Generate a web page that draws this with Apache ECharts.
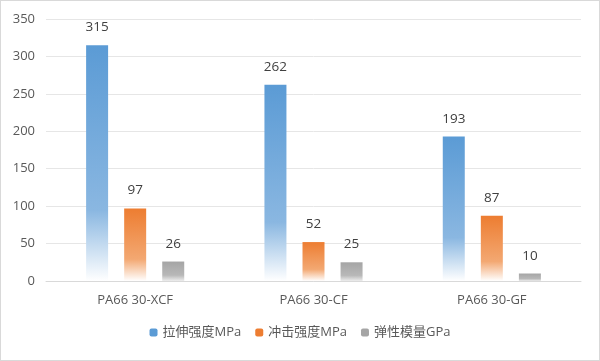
<!DOCTYPE html>
<html><head><meta charset="utf-8">
<script src="https://cdn.jsdelivr.net/npm/echarts@6/dist/echarts.min.js"></script>
<style>html,body{margin:0;padding:0;background:#fff}#c{width:600px;height:361px;box-sizing:border-box;border:1px solid #d9d9d9}</style>
</head><body><div id="c"></div>
<script>
const categories = ['PA66 30-XCF', 'PA66 30-CF', 'PA66 30-GF'];
const seriesNames = ['拉伸强度MPa', '冲击强度MPa', '弹性模量GPa'];
const tensile = [315, 262, 193];
const impact = [97, 52, 87];
const modulus = [26, 25, 10];
const yTicks = [0, 50, 100, 150, 200, 250, 300, 350];

const font = "'Open Sans', 'Noto Sans CJK SC', sans-serif";
function grad(top, mid, bottom) {
  return new echarts.graphic.LinearGradient(0, 0, 0, 1, [
    {offset: 0, color: top}, {offset: 0.7, color: mid}, {offset: 1, color: bottom}
  ]);
}
const colors = [
  grad('#5B9BD5', '#8AB7E1', '#FFFFFF'),
  grad('#ED7D31', '#F3A872', '#FFFFFF'),
  grad('#A5A5A5', '#B8B8B8', '#EDEDED')
];
const solid = ['#5B9BD5', '#ED7D31', '#A5A5A5'];
const data = [tensile, impact, modulus];
const chart = echarts.init(document.getElementById('c'));
chart.setOption({
  animation: false,
  grid: {left: 45, right: 18, top: 18, bottom: 79, containLabel: false},
  legend: {
    bottom: 16, left: 'center', itemWidth: 8, itemHeight: 8, itemGap: 14,
    textStyle: {color: '#595959', fontSize: 13, fontFamily: font},
    data: seriesNames.map((n, i) => ({name: n, itemStyle: {color: solid[i]}}))
  },
  xAxis: {
    type: 'category', data: categories,
    axisLine: {lineStyle: {color: '#D9D9D9'}}, axisTick: {show: false},
    axisLabel: {color: '#595959', fontSize: 13, fontFamily: font, margin: 13}
  },
  yAxis: {
    type: 'value', min: 0, max: 350, interval: 50,
    axisLine: {show: false}, axisTick: {show: false},
    splitLine: {lineStyle: {color: '#E6E6E6'}},
    axisLabel: {color: '#595959', fontSize: 13, fontFamily: font, margin: 11,
      formatter: v => yTicks.includes(v) ? String(v) : ''}
  },
  series: seriesNames.map((n, i) => ({
    name: n, type: 'bar', data: data[i], barWidth: 22, barGap: '73%',
    itemStyle: {color: colors[i]},
    label: {show: true, position: 'top', distance: 11, color: '#404040', fontSize: 13.5, fontFamily: font}
  }))
});
</script></body></html>
